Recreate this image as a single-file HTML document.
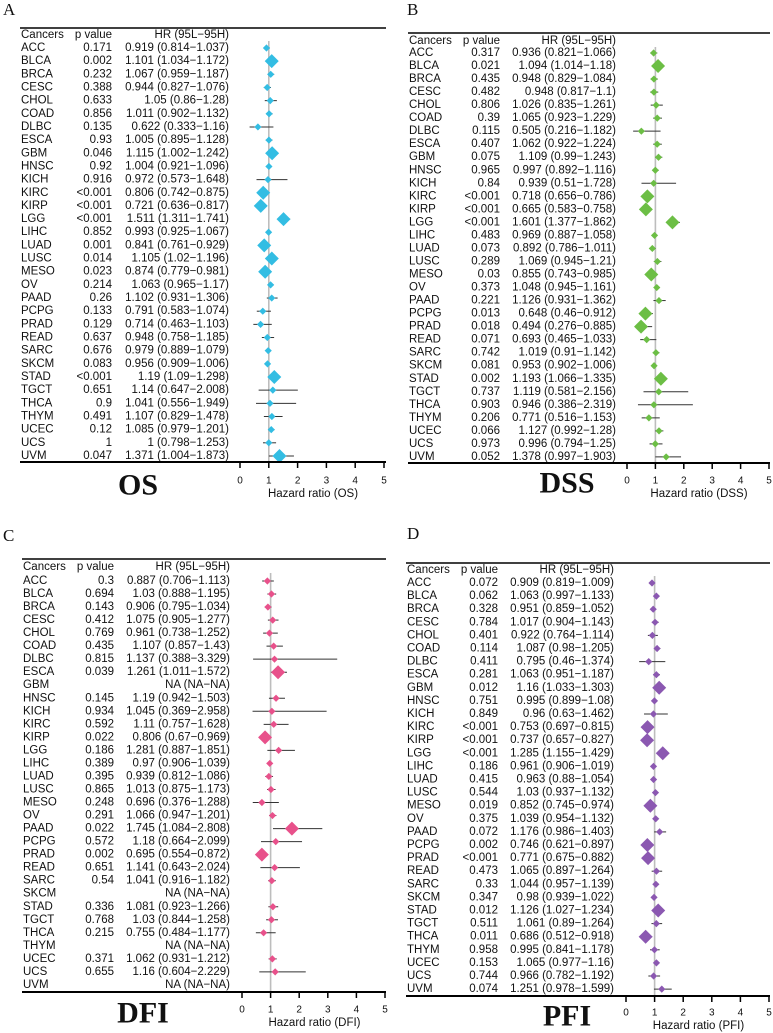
<!DOCTYPE html>
<html><head><meta charset="utf-8"><style>
html,body{margin:0;padding:0;background:#fff}
svg{display:block}
text{font-family:"Liberation Sans",Arial,sans-serif;fill:#111}
</style></head><body>
<svg id="fig" width="773" height="1033" viewBox="0 0 773 1033"></svg>
<script>
const cancers = ["ACC","BLCA","BRCA","CESC","CHOL","COAD","DLBC","ESCA","GBM","HNSC","KICH","KIRC","KIRP","LGG","LIHC","LUAD","LUSC","MESO","OV","PAAD","PCPG","PRAD","READ","SARC","SKCM","STAD","TGCT","THCA","THYM","UCEC","UCS","UVM"];
const tickValues = [0,1,2,3,4,5];

// OS
const osP  = ["0.171","0.002","0.232","0.388","0.633","0.856","0.135","0.93","0.046","0.92","0.916","<0.001","<0.001","<0.001","0.852","0.001","0.014","0.023","0.214","0.26","0.133","0.129","0.637","0.676","0.083","<0.001","0.651","0.9","0.491","0.12","1","0.047"];
const osHR = [0.919,1.101,1.067,0.944,1.05,1.011,0.622,1.005,1.115,1.004,0.972,0.806,0.721,1.511,0.993,0.841,1.105,0.874,1.063,1.102,0.791,0.714,0.948,0.979,0.956,1.19,1.14,1.041,1.107,1.085,1,1.371];
const osLo = [0.814,1.034,0.959,0.827,0.86,0.902,0.333,0.895,1.002,0.921,0.573,0.742,0.636,1.311,0.925,0.761,1.02,0.779,0.965,0.931,0.583,0.463,0.758,0.889,0.909,1.09,0.647,0.556,0.829,0.979,0.798,1.004];
const osHi = [1.037,1.172,1.187,1.076,1.28,1.132,1.16,1.128,1.242,1.096,1.648,0.875,0.817,1.741,1.067,0.929,1.196,0.981,1.17,1.306,1.074,1.103,1.185,1.079,1.006,1.298,2.008,1.949,1.478,1.201,1.253,1.873];

// DSS
const dssP  = ["0.317","0.021","0.435","0.482","0.806","0.39","0.115","0.407","0.075","0.965","0.84","<0.001","<0.001","<0.001","0.483","0.073","0.289","0.03","0.373","0.221","0.013","0.018","0.071","0.742","0.081","0.002","0.737","0.903","0.206","0.066","0.973","0.052"];
const dssHR = [0.936,1.094,0.948,0.948,1.026,1.065,0.505,1.062,1.109,0.997,0.939,0.718,0.665,1.601,0.969,0.892,1.069,0.855,1.048,1.126,0.648,0.494,0.693,1.019,0.953,1.193,1.119,0.946,0.771,1.127,0.996,1.378];
const dssLo = [0.821,1.014,0.829,0.817,0.835,0.923,0.216,0.922,0.99,0.892,0.51,0.656,0.583,1.377,0.887,0.786,0.945,0.743,0.945,0.931,0.46,0.276,0.465,0.91,0.902,1.066,0.581,0.386,0.516,0.992,0.794,0.997];
const dssHi = [1.066,1.18,1.084,1.1,1.261,1.229,1.182,1.224,1.243,1.116,1.728,0.786,0.758,1.862,1.058,1.011,1.21,0.985,1.161,1.362,0.912,0.885,1.033,1.142,1.006,1.335,2.156,2.319,1.153,1.28,1.25,1.903];

// DFI (null = NA)
const dfiP  = ["0.3","0.694","0.143","0.412","0.769","0.435","0.815","0.039","","0.145","0.934","0.592","0.022","0.186","0.389","0.395","0.865","0.248","0.291","0.022","0.572","0.002","0.651","0.54","","0.336","0.768","0.215","","0.371","0.655",""];
const dfiHR = [0.887,1.03,0.906,1.075,0.961,1.107,1.137,1.261,null,1.19,1.045,1.11,0.806,1.281,0.97,0.939,1.013,0.696,1.066,1.745,1.18,0.695,1.141,1.041,null,1.081,1.03,0.755,null,1.062,1.16,null];
const dfiLo = [0.706,0.888,0.795,0.905,0.738,0.857,0.388,1.011,null,0.942,0.369,0.757,0.67,0.887,0.906,0.812,0.875,0.376,0.947,1.084,0.664,0.554,0.643,0.916,null,0.923,0.844,0.484,null,0.931,0.604,null];
const dfiHi = [1.113,1.195,1.034,1.277,1.252,1.43,3.329,1.572,null,1.503,2.958,1.628,0.969,1.851,1.039,1.086,1.173,1.288,1.201,2.808,2.099,0.872,2.024,1.182,null,1.266,1.258,1.177,null,1.212,2.229,null];

// PFI
const pfiP  = ["0.072","0.062","0.328","0.784","0.401","0.114","0.411","0.281","0.012","0.751","0.849","<0.001","<0.001","<0.001","0.186","0.415","0.544","0.019","0.375","0.072","0.002","<0.001","0.473","0.33","0.347","0.012","0.511","0.011","0.958","0.153","0.744","0.074"];
const pfiHR = [0.909,1.063,0.951,1.017,0.922,1.087,0.795,1.063,1.16,0.995,0.96,0.753,0.737,1.285,0.961,0.963,1.03,0.852,1.039,1.176,0.746,0.771,1.065,1.044,0.98,1.126,1.061,0.686,0.995,1.065,0.966,1.251];
const pfiLo = [0.819,0.997,0.859,0.904,0.764,0.98,0.46,0.951,1.033,0.899,0.63,0.697,0.657,1.155,0.906,0.88,0.937,0.745,0.954,0.986,0.621,0.675,0.897,0.957,0.939,1.027,0.89,0.512,0.841,0.977,0.782,0.978];
const pfiHi = [1.009,1.133,1.052,1.143,1.114,1.205,1.374,1.187,1.303,1.08,1.462,0.815,0.827,1.429,1.019,1.054,1.132,0.974,1.132,1.403,0.897,0.882,1.264,1.139,1.022,1.234,1.264,0.918,1.178,1.16,1.192,1.599];

const NS="http://www.w3.org/2000/svg";
const svg=document.getElementById('fig');
function mk(tag,attrs,parent,txt){const e=document.createElementNS(NS,tag);for(const k in attrs)e.setAttribute(k,attrs[k]);if(txt!==undefined)e.textContent=txt;(parent||svg).appendChild(e);return e;}

const panels=[
 {key:"os",letter:"A",title:"OS",color:"#33BDE3",P:osP,HR:osHR,LO:osLo,HI:osHi,
  lx1:20,lx2:386,topY:28,hdrY:35,row0:48,step:13.16,botY:462,cancX:21,pR:112,hrR:229,x0:240,x5:384,tickY:481,axY:494,tX:138,tY:485,labX:3,labY:15},
 {key:"dss",letter:"B",title:"DSS",color:"#6CBE45",P:dssP,HR:dssHR,LO:dssLo,HI:dssHi,
  lx1:408,lx2:770,topY:33,hdrY:41,row0:53,step:13.03,botY:463,cancX:409,pR:500,hrR:616,x0:627,x5:769,tickY:481,axY:494,tX:567,tY:483,labX:407,labY:15},
 {key:"dfi",letter:"C",title:"DFI",color:"#E8518B",P:dfiP,HR:dfiHR,LO:dfiLo,HI:dfiHi,
  lx1:22,lx2:386,topY:559,hdrY:567,row0:581,step:13.03,botY:992,cancX:23,pR:114,hrR:230,x0:242,x5:385,tickY:1010,axY:1023,tX:143,tY:1013,labX:3,labY:541},
 {key:"pfi",letter:"D",title:"PFI",color:"#8B58B1",P:pfiP,HR:pfiHR,LO:pfiLo,HI:pfiHi,
  lx1:406,lx2:770,topY:563,hdrY:570,row0:583,step:13.1,botY:996,cancX:407,pR:498,hrR:614,x0:626,x5:769,tickY:1013,axY:1026,tX:567,tY:1016,labX:407,labY:539}
];

panels.forEach(p=>{
  const g=mk('g',{});
  
  
  const xs=v=>p.x0+(p.x5-p.x0)*(v-tickValues[0])/(tickValues[tickValues.length-1]-tickValues[0]);
  const ys=i=>p.row0+i*p.step;
  const lab=mk('text',{x:p.labX,y:p.labY,'font-family':'"Liberation Serif",serif','font-size':17,style:'font-family:"Liberation Serif",serif'},g,p.letter);
  
  
  const tl=mk('line',{x1:p.lx1,x2:p.lx2,y1:p.topY,y2:p.topY,stroke:'#000','stroke-width':1.6},g);
  
  
  const hdr=[["Cancers",p.cancX,"start"],["p value",p.pR,"end"],["HR (95L\u221295H)",p.hrR,"end"]];
  hdr.forEach(h=>{const t=mk('text',{x:h[1],y:p.hdrY,'font-size':11.5,'text-anchor':h[2],'dominant-baseline':'central'},g,h[0]);
    
    });
  const rl=mk('line',{x1:xs(1),x2:xs(1),y1:p.hdrY+6,y2:p.botY,stroke:'#bdbdbd','stroke-width':1.6},g);
  
  
  cancers.forEach((c,i)=>{
    const y=ys(i);
    const t1=mk('text',{x:p.cancX,y:y,'font-size':11.5,'dominant-baseline':'central'},g,c);
    
    
    const t2=mk('text',{x:p.pR,y:y,'font-size':11.5,'text-anchor':'end','dominant-baseline':'central'},g,p.P[i]);
    
    
    const hr=p.HR[i];
    const s=hr===null?"NA (NA\u2212NA)":hr+" ("+p.LO[i]+"\u2212"+p.HI[i]+")";
    const t3=mk('text',{x:p.hrR,y:y,'font-size':11.5,'text-anchor':'end','dominant-baseline':'central'},g,s);
    
    
    if(hr===null)return;
    const ci=mk('line',{x1:xs(p.LO[i]),x2:xs(p.HI[i]),y1:y,y2:y,stroke:'#333','stroke-width':1},g);
    
    
    const pv=p.P[i].startsWith('<')?0.0005:parseFloat(p.P[i]);
    const r=pv<0.05?7:3.6;
    const cx=xs(hr);
    const d=mk('path',{d:`M${cx-r},${y}L${cx},${y-r}L${cx+r},${y}L${cx},${y+r}Z`,fill:p.color},g);
    
    
  });
  const bl=mk('line',{x1:p.lx1,x2:p.lx2,y1:p.botY,y2:p.botY,stroke:'#000','stroke-width':2},g);
  
  
  tickValues.forEach(v=>{
    const tk=mk('line',{x1:xs(v),x2:xs(v),y1:p.botY,y2:p.botY+6,stroke:'#000','stroke-width':1.5},g);
    
    
    const tt=mk('text',{x:xs(v),y:p.tickY,'font-size':10,'text-anchor':'middle','dominant-baseline':'central'},g,String(v));
    
    
  });
  const at=mk('text',{x:(xs(0)+xs(5))/2+1,y:p.axY,'font-size':11.5,'text-anchor':'middle','dominant-baseline':'central'},g,"Hazard ratio ("+p.title+")");
  
  
  const ti=mk('text',{x:p.tX,y:p.tY,'font-size':30,'font-weight':'bold','text-anchor':'middle','dominant-baseline':'central',style:'font-family:"Liberation Serif",serif'},g,p.title);
  
  
});
</script>
</body></html>
